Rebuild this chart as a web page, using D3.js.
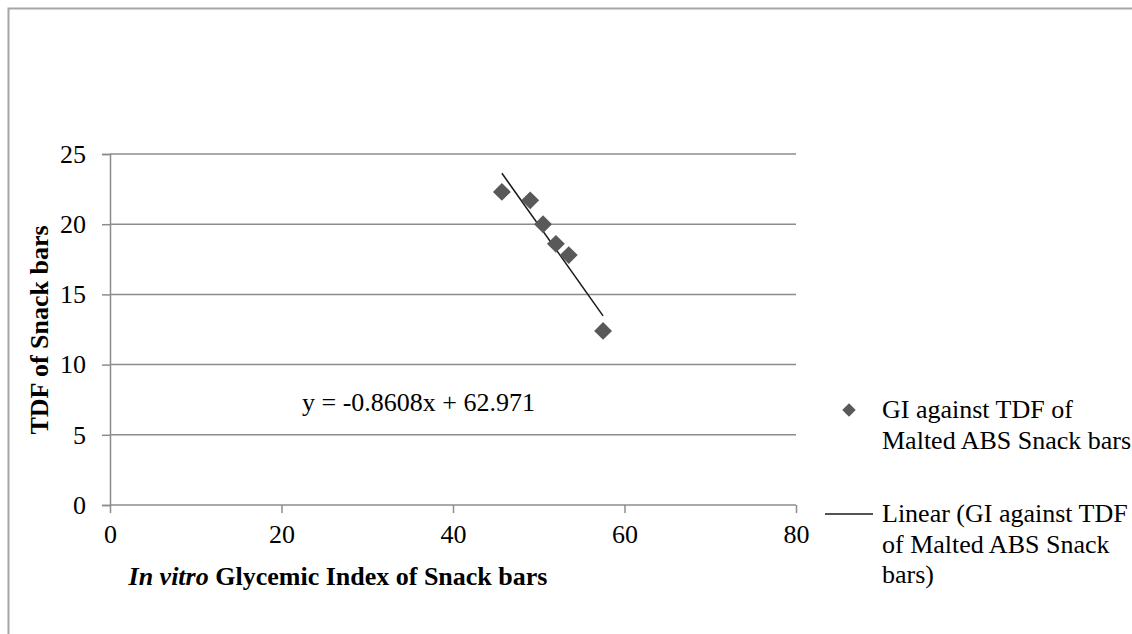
<!DOCTYPE html>
<html>
<head>
<meta charset="utf-8">
<script src="https://cdn.jsdelivr.net/npm/d3@7"></script>
<style>
  body { margin: 0; background: #fff; }
  svg text { font-family: "Liberation Serif", "Times New Roman", serif; fill: #000; }
</style>
</head>
<body>
<svg id="chart" width="1132" height="634"></svg>
<script>
const giValues = [45.7, 49.0, 50.5, 52.0, 53.5, 57.5];
const tdfValues = [22.3, 21.7, 20.0, 18.6, 17.8, 12.4];
const slope = -0.8608;
const intercept = 62.971;
const xTicks = [0, 20, 40, 60, 80];
const yTicks = [0, 5, 10, 15, 20, 25];
const legendLabels = [
  ["GI against TDF of", "Malted ABS Snack bars"],
  ["Linear (GI against TDF", "of Malted ABS Snack", "bars)"]
];

const fs = "26px";
const svg = d3.select("#chart");

// outer frame
svg.append("path")
  .attr("d", "M8.5,634 V8.5 H1132")
  .attr("fill", "none")
  .attr("stroke", "#a6a6a6")
  .attr("stroke-width", 2);

const x = d3.scaleLinear().domain([0, 80]).range([110, 796]);
const y = d3.scaleLinear().domain([0, 25]).range([505, 154]);

// gridlines
svg.append("g")
  .selectAll("line")
  .data(yTicks)
  .enter()
  .append("line")
  .attr("x1", x(0))
  .attr("x2", x(80))
  .attr("y1", d => y(d))
  .attr("y2", d => y(d))
  .attr("stroke", "#8c8c8c")
  .attr("stroke-width", 1.5);

const yAxis = svg.append("g")
  .attr("transform", `translate(${x(0)},0)`)
  .call(d3.axisLeft(y).tickValues(yTicks).tickSize(8).tickPadding(16));
yAxis.selectAll("line, path").attr("stroke", "#8c8c8c").attr("stroke-width", 1.5);
yAxis.selectAll("text").style("font-size", fs).style("font-family", "Liberation Serif");

const xAxis = svg.append("g")
  .attr("transform", `translate(0,${y(0)})`)
  .call(d3.axisBottom(x).tickValues(xTicks).tickSize(8).tickSizeOuter(0).tickPadding(12));
xAxis.selectAll("line, path").attr("stroke", "#8c8c8c").attr("stroke-width", 1.5);
xAxis.select(".domain").remove();
xAxis.selectAll("text").style("font-size", fs).style("font-family", "Liberation Serif");

// trendline
const xMin = d3.min(giValues), xMax = d3.max(giValues);
svg.append("line")
  .attr("x1", x(xMin))
  .attr("y1", y(slope * xMin + intercept))
  .attr("x2", x(xMax))
  .attr("y2", y(slope * xMax + intercept))
  .attr("stroke", "#1a1a1a")
  .attr("stroke-width", 1.5);

const diamond = d3.symbol().type(d3.symbolSquare).size(160);

svg.append("g")
  .selectAll("path")
  .data(giValues.map((g, i) => [g, tdfValues[i]]))
  .enter()
  .append("path")
  .attr("d", diamond)
  .attr("transform", d => `translate(${x(d[0])},${y(d[1])}) rotate(45)`)
  .attr("fill", "#595959");

// equation
svg.append("text")
  .attr("x", 302)
  .attr("y", 411)
  .style("font-size", fs)
  .text(`y = ${slope}x + ${intercept}`);

// axis titles
const xt = svg.append("text")
  .attr("x", 338)
  .attr("y", 585)
  .attr("text-anchor", "middle")
  .style("font-size", fs)
  .style("font-weight", "bold");
xt.append("tspan").style("font-style", "italic").text("In vitro");
xt.append("tspan").text(" Glycemic Index of Snack bars");

svg.append("text")
  .attr("transform", "translate(48,330) rotate(-90)")
  .attr("text-anchor", "middle")
  .style("font-size", fs)
  .style("font-weight", "bold")
  .text("TDF of Snack bars");

// legend
svg.append("path")
  .attr("d", d3.symbol().type(d3.symbolSquare).size(90))
  .attr("transform", "translate(849,410) rotate(45)")
  .attr("fill", "#595959");
svg.append("line")
  .attr("x1", 825).attr("x2", 873)
  .attr("y1", 514).attr("y2", 514)
  .attr("stroke", "#1a1a1a")
  .attr("stroke-width", 1.5);

const legendTop = [418, 522];
legendLabels.forEach((lines, i) => {
  const t = svg.append("text")
    .attr("x", 882)
    .attr("y", legendTop[i])
    .style("font-size", fs);
  lines.forEach((ln, j) => {
    t.append("tspan").attr("x", 882).attr("dy", j === 0 ? 0 : 30.5).text(ln);
  });
});
</script>
</body>
</html>
